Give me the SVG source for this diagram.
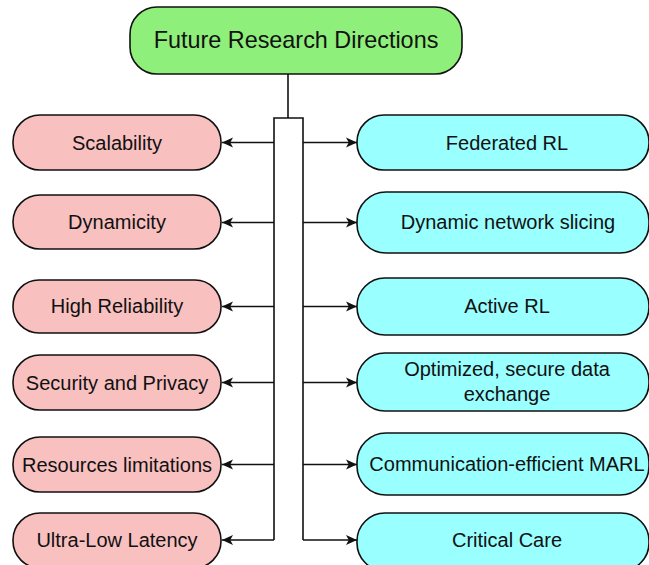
<svg xmlns="http://www.w3.org/2000/svg" width="649" height="565" viewBox="0 0 649 565">
<defs>
<style>
.n rect{stroke:#111;stroke-width:1.6}
.l rect{fill:#F9C0C0}
.r rect{fill:#99FFFF}
text{font-family:"Liberation Sans",Arial,sans-serif;font-size:20px;fill:#111;text-anchor:middle}
.c{fill:none;stroke:#111;stroke-width:1.6}
</style>
<marker id="ah" viewBox="0 0 10 10" refX="10" refY="5" markerWidth="11" markerHeight="11" markerUnits="userSpaceOnUse" orient="auto">
<path d="M0,0.5 L10,5 L0,9.5 L2.5,5 Z" fill="#111"/>
</marker>
</defs>
<rect width="649" height="565" fill="#fff"/>
<g id="connectors">
<path class="c" d="M288,74 V118"/>
<path class="c" d="M274,540 V118 H303 V540"/>
<path class="c" d="M274,142.5 H222" marker-end="url(#ah)"/>
<path class="c" d="M274,222.5 H222" marker-end="url(#ah)"/>
<path class="c" d="M274,306.5 H222" marker-end="url(#ah)"/>
<path class="c" d="M274,382.5 H222" marker-end="url(#ah)"/>
<path class="c" d="M274,464.5 H222" marker-end="url(#ah)"/>
<path class="c" d="M274,540 H222" marker-end="url(#ah)"/>
<path class="c" d="M303,142.5 H357" marker-end="url(#ah)"/>
<path class="c" d="M303,222.5 H357" marker-end="url(#ah)"/>
<path class="c" d="M303,306.5 H357" marker-end="url(#ah)"/>
<path class="c" d="M303,382.5 H357" marker-end="url(#ah)"/>
<path class="c" d="M303,464.5 H357" marker-end="url(#ah)"/>
<path class="c" d="M303,540 H357" marker-end="url(#ah)"/>
</g>
<g id="root" class="n">
<rect x="130" y="7" width="332" height="67" rx="27" fill="#8FEF7B"/>
<text x="296" y="48" style="font-size:23.4px">Future Research Directions</text>
</g>
<g id="scalability" class="n l">
<rect x="13" y="115" width="208" height="55" rx="27"/>
<text x="117" y="149.5">Scalability</text>
</g>
<g id="dynamicity" class="n l">
<rect x="13" y="195" width="208" height="54" rx="27"/>
<text x="117" y="229">Dynamicity</text>
</g>
<g id="high-reliability" class="n l">
<rect x="13" y="280" width="208" height="53" rx="26"/>
<text x="117" y="313">High Reliability</text>
</g>
<g id="security-privacy" class="n l">
<rect x="13" y="355" width="208" height="55" rx="27"/>
<text x="117" y="389.5">Security and Privacy</text>
</g>
<g id="resources-limitations" class="n l">
<rect x="13" y="437" width="208" height="55" rx="27"/>
<text x="117" y="471.5">Resources limitations</text>
</g>
<g id="ultra-low-latency" class="n l">
<rect x="13" y="513" width="208" height="55" rx="27"/>
<text x="117" y="547">Ultra-Low Latency</text>
</g>
<g id="federated-rl" class="n r">
<rect x="357" y="115" width="292" height="55" rx="27"/>
<text x="507" y="149.5">Federated RL</text>
</g>
<g id="dynamic-network-slicing" class="n r">
<rect x="357" y="192" width="292" height="61" rx="29"/>
<text x="508" y="229">Dynamic network slicing</text>
</g>
<g id="active-rl" class="n r">
<rect x="357" y="278" width="292" height="57" rx="28"/>
<text x="507" y="313">Active RL</text>
</g>
<g id="optimized-data-exchange" class="n r">
<rect x="357" y="353" width="292" height="58" rx="28"/>
<text x="507" y="376">Optimized, secure data</text>
<text x="507" y="401">exchange</text>
</g>
<g id="communication-efficient-marl" class="n r">
<rect x="357" y="433" width="292" height="62" rx="29"/>
<text x="507" y="471">Communication-efficient MARL</text>
</g>
<g id="critical-care" class="n r">
<rect x="357" y="513" width="292" height="58" rx="28"/>
<text x="507" y="547">Critical Care</text>
</g>
</svg>
